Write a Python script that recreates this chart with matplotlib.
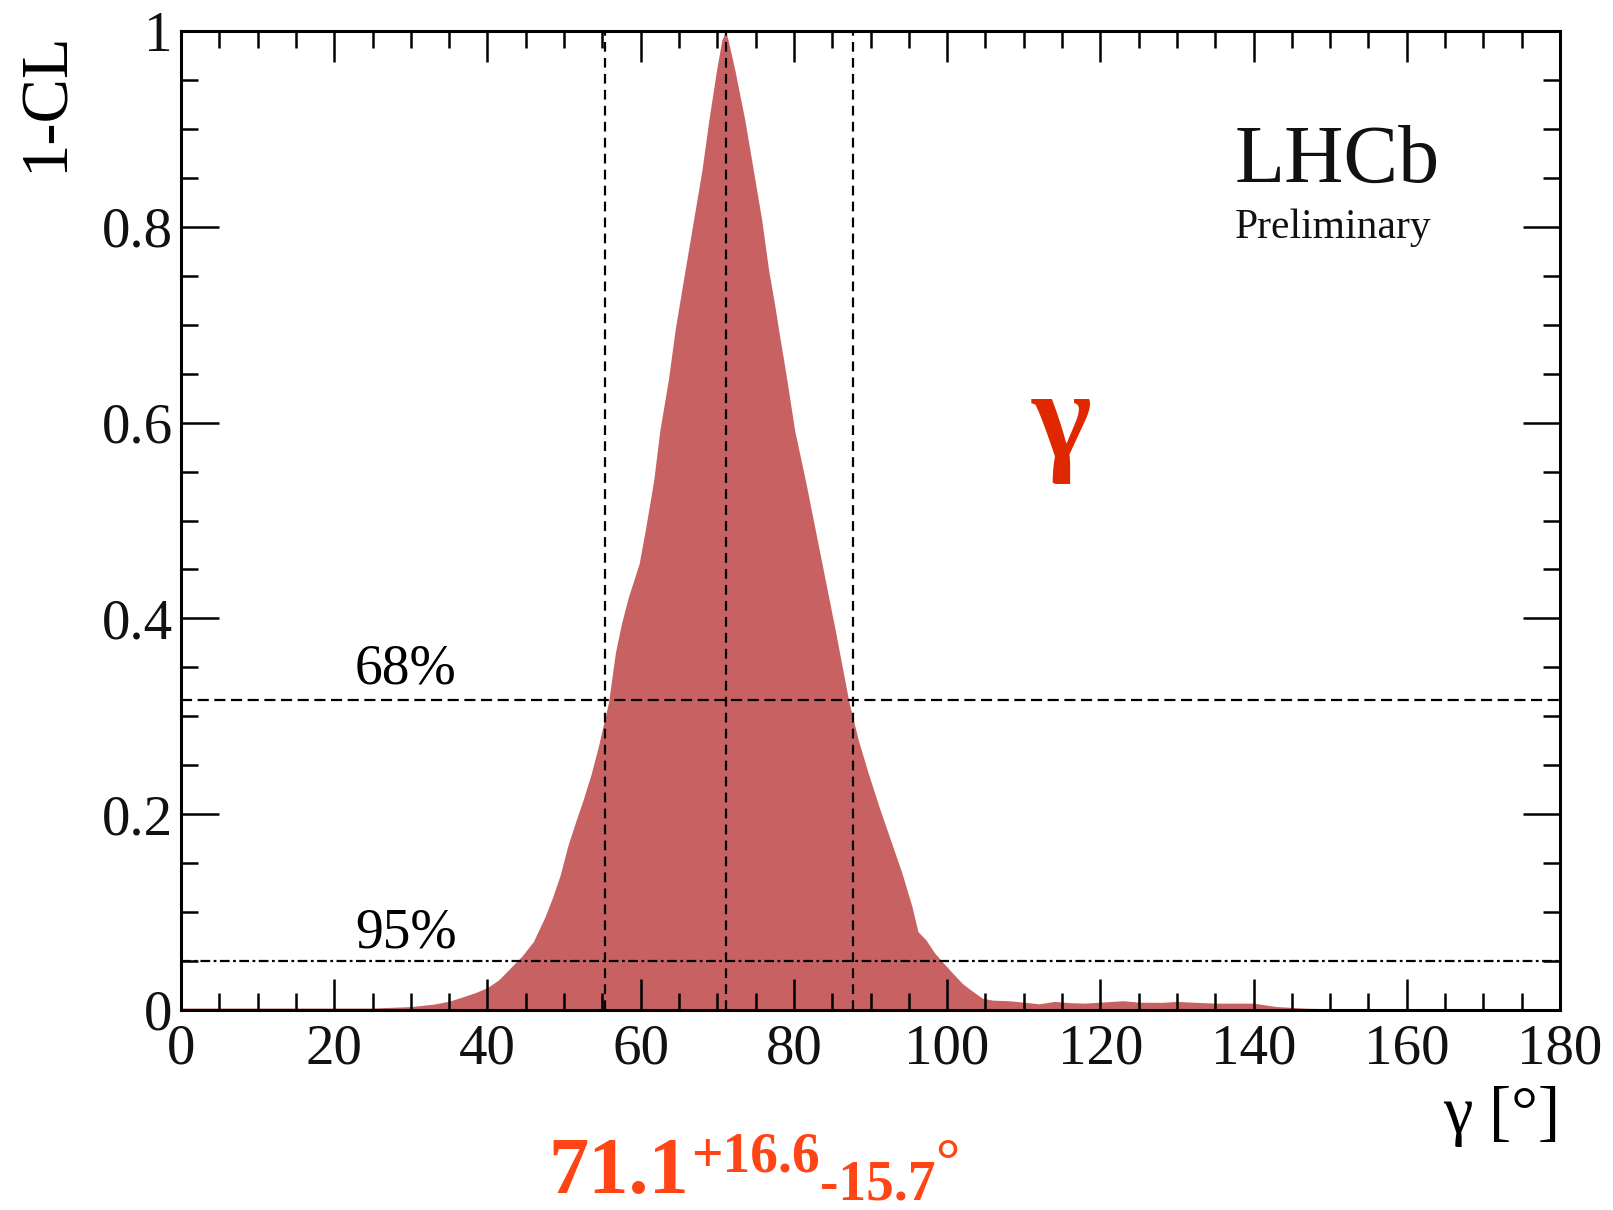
import matplotlib
matplotlib.use("Agg")
import matplotlib.pyplot as plt
from matplotlib.ticker import MultipleLocator

plt.rcParams['font.family'] = ['Liberation Serif', 'DejaVu Serif']
plt.rcParams['lines.scale_dashes'] = False

# Profile-likelihood scan of gamma (degrees) and its 1-CL value
gamma_deg = [0, 10, 20, 25, 30, 33, 35, 37, 38.5, 40, 41.5, 43, 44.5, 46, 47.5,
             48.5, 49.5, 50.5, 51.5, 52.5, 53.5, 54.5, 55.8, 56.7, 57.5, 58.4,
             59.8, 60.6, 61.7, 62.5, 63.6, 64.5, 65.8, 66.9, 68.0, 68.9, 69.9,
             70.6, 71.1, 71.4, 72.3, 73.6, 74.7, 75.8, 76.7, 77.5, 78.0, 79.1,
             80.1, 81.5, 82.8, 84.1, 85.4, 86.2, 87.2, 88.4, 89.7, 91.1, 92.6,
             94.1, 95.4, 96.2, 97.2, 98.4, 99.4, 100.8, 102.0, 103.0, 104.6, 106,
             108, 110, 112, 114, 116, 118, 120, 123, 125, 128, 130, 132, 135, 140,
             143, 147, 152, 160, 170, 180]
one_minus_cl = [0.002, 0.002, 0.002, 0.002, 0.0035, 0.006, 0.009, 0.014, 0.018,
                0.023, 0.031, 0.043, 0.055, 0.070, 0.095, 0.115, 0.138, 0.168,
                0.192, 0.215, 0.240, 0.270, 0.314, 0.365, 0.395, 0.422, 0.456,
                0.490, 0.541, 0.592, 0.643, 0.695, 0.756, 0.807, 0.858, 0.909,
                0.960, 0.991, 1.0, 0.991, 0.960, 0.909, 0.858, 0.807, 0.756,
                0.720, 0.695, 0.643, 0.592, 0.541, 0.490, 0.439, 0.388, 0.355,
                0.314, 0.276, 0.242, 0.208, 0.174, 0.140, 0.106, 0.080, 0.072,
                0.058, 0.049, 0.037, 0.027, 0.021, 0.012, 0.010, 0.0095, 0.008,
                0.0063, 0.0088, 0.0075, 0.007, 0.008, 0.0095, 0.008, 0.0078,
                0.0088, 0.008, 0.007, 0.007, 0.0035, 0.0018, 0.001, 0.0005,
                0.0003, 0.0002]

# Best fit value and asymmetric uncertainties
central = 71.1
err_up = 16.6
err_down = 15.7

# Confidence-level reference lines
cl_levels = [0.317, 0.05]
cl_labels = ['68%', '95%']

x_ticks = [0, 20, 40, 60, 80, 100, 120, 140, 160, 180]
y_ticks = [0, 0.2, 0.4, 0.6, 0.8, 1.0]
y_tick_labels = ['0', '0.2', '0.4', '0.6', '0.8', '1']

SERIF = 'Liberation Serif'
W, H = 1613, 1210
fig = plt.figure(figsize=(W / 100, H / 100), dpi=100)
ax = fig.add_axes([181 / W, 1 - 1010 / H, (1560 - 181) / W, (1010 - 31) / H])

ax.fill_between(gamma_deg, one_minus_cl, 0, color='#c86262', lw=0, zorder=1)

for v in (central - err_down, central, central + err_up):
    ax.axvline(v, color='black', lw=1.6, dashes=(7, 4.5), zorder=3)
ax.axhline(cl_levels[0], color='black', lw=1.6, dashes=(8, 4), zorder=3)
ax.axhline(cl_levels[1], color='black', lw=1.6, dashes=(7, 2.5, 2, 2.5), zorder=3)

ax.text(22.7, 0.333, cl_labels[0], fontsize=40, ha='left', va='baseline')
ax.text(22.7, 0.064, cl_labels[1], fontsize=40, ha='left', va='baseline')

ax.set_xlim(0, 180)
ax.set_ylim(0, 1)
ax.set_xticks(x_ticks)
ax.set_xticklabels([str(t) for t in x_ticks])
ax.set_yticks(y_ticks)
ax.set_yticklabels(y_tick_labels)
ax.xaxis.set_minor_locator(MultipleLocator(5))
ax.yaxis.set_minor_locator(MultipleLocator(0.05))
ax.tick_params(which='both', direction='in', top=True, right=True, width=1.8,
               colors='black', labelcolor='#111111')
ax.tick_params(axis='x', which='major', length=22, pad=10, labelsize=41)
ax.tick_params(axis='y', which='major', length=27, pad=6, labelsize=41)
ax.tick_params(which='minor', length=12.5)
for s in ax.spines.values():
    s.set_linewidth(2.2)

ax.text(-0.0975, 1.0, '1-CL', transform=ax.transAxes, rotation=90,
        fontsize=48, ha='center', va='top')
ax.text(1.0, -0.078, 'γ [°]', transform=ax.transAxes, fontsize=48,
        ha='right', va='top')

fig.text(1235 / W, 1 - 182 / H, 'LHCb', fontsize=59, va='baseline', color='#111111')
fig.text(1235 / W, 1 - 238 / H, 'Preliminary', fontsize=30, va='baseline', color='#111111')

fig.text(1062 / W, 1 - 426 / H, 'γ', fontsize=92, family=SERIF, fontweight='bold',
         color='#e02800', ha='center', va='center')

# Result label: value with superscript/subscript errors placed one after another
res_color = '#ff4516'
fig.canvas.draw()
renderer = fig.canvas.get_renderer()


def place(txt, x_px, base_px, size):
    t = fig.text(x_px / W, 1 - base_px / H, txt, fontsize=size, family=SERIF,
                 fontweight='bold', color=res_color, ha='left', va='baseline')
    return t.get_window_extent(renderer=renderer).x1


x = 548
x = place(f'{central:.1f}', x, 1193, 58)
x_sup = place(f'+{err_up:.1f}', x + 2, 1172, 40)
x = place(f'-{err_down:.1f}', x_sup, 1199, 40)
place('°', x, 1180, 44)

fig.savefig('out.png', dpi=100, facecolor='white')
